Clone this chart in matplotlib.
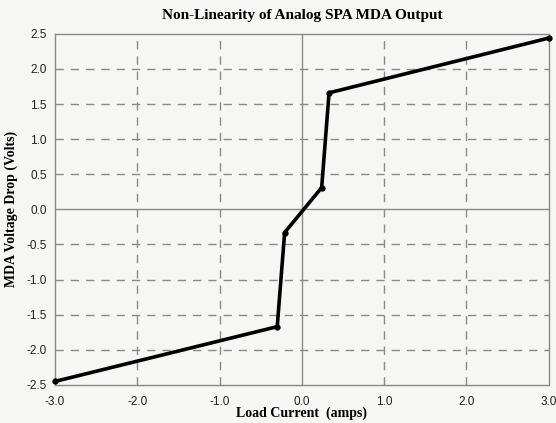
import matplotlib
matplotlib.use("Agg")
import matplotlib.pyplot as plt
import numpy as np

# Load current (amps) vs MDA voltage drop (volts)
current = [-3.0, -0.30, -0.21, 0.24, 0.33, 3.0]
voltage = [-2.45, -1.67, -0.33, 0.31, 1.66, 2.44]

xticks = [-3.0, -2.0, -1.0, 0.0, 1.0, 2.0, 3.0]
yticks = [-2.5, -2.0, -1.5, -1.0, -0.5, 0.0, 0.5, 1.0, 1.5, 2.0, 2.5]

bg = "#f6f6f4"
grid_color = "#8a8a8a"

fig = plt.figure(figsize=(5.56, 4.23), dpi=100, facecolor=bg)
ax = fig.add_axes([0.099, 0.090, 0.888, 0.830], facecolor=bg)

ax.set_xlim(-3.0, 3.0)
ax.set_ylim(-2.5, 2.5)

# dashed grid, solid zero lines
for xv in xticks[1:-1]:
    if xv == 0.0:
        ax.axvline(xv, color=grid_color, lw=1.0, zorder=1)
    else:
        ax.axvline(xv, color=grid_color, lw=1.0, ls=(0, (6, 5)), zorder=1)
for yv in yticks[1:-1]:
    if yv == 0.0:
        ax.axhline(yv, color=grid_color, lw=1.0, zorder=1)
    else:
        ax.axhline(yv, color=grid_color, lw=1.0, ls=(0, (6, 5)), zorder=1)

ax.plot(current, voltage, color="black", lw=2.6, marker="o", ms=3.5,
        zorder=3, clip_on=False)

for side in ax.spines.values():
    side.set_linestyle((0, (1, 1)))
    side.set_color("#888888")
    side.set_linewidth(1.0)

ax.set_xticks(xticks)
ax.set_yticks(yticks)
ax.set_xticklabels(["%.1f" % v for v in xticks], family="Liberation Sans",
                   fontsize=8.5, color="#222222")
ax.set_yticklabels(["%.1f" % v for v in yticks], family="Liberation Sans",
                   fontsize=8.5, color="#222222")
ax.tick_params(axis="x", length=0, pad=8)
ax.tick_params(axis="y", length=0, pad=6)

ax.set_title("Non-Linearity of Analog SPA MDA Output", family="Liberation Serif",
             fontweight="bold", fontsize=11, pad=11)
ax.set_xlabel("Load Current  (amps)", family="Liberation Serif",
              fontweight="bold", fontsize=10, labelpad=-1)
ax.set_ylabel("MDA Voltage Drop (Volts)", family="Liberation Serif",
              fontweight="bold", fontsize=10, labelpad=6)

fig.savefig("out.png", dpi=100, facecolor=bg)
